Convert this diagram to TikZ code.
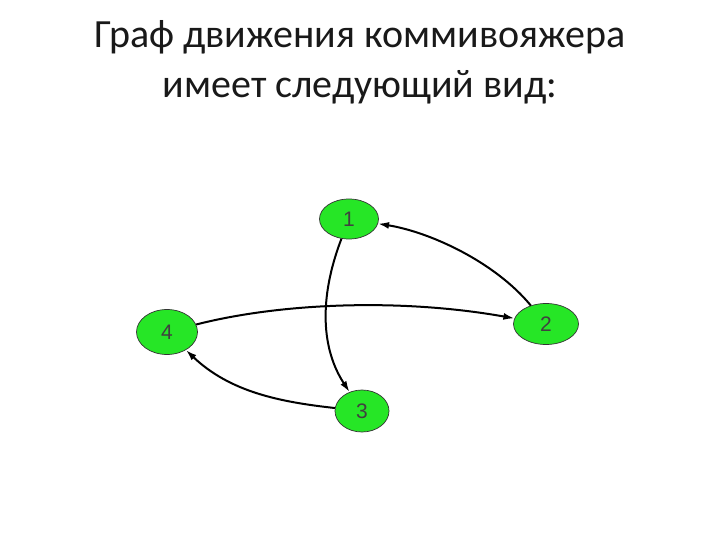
\documentclass[tikz,border=0pt]{standalone}
\usepackage{fontspec}
\setmainfont{Carlito}
\newfontfamily\labelfont{Liberation Sans}
\usetikzlibrary{arrows.meta,positioning}
\definecolor{nodegreen}{RGB}{38,230,38}
\tikzset{tsp/.style={draw=black!80,fill=nodegreen,ellipse,line width=0.7pt,inner sep=0,
        font=\labelfont\fontsize{21}{21}\selectfont,text=black!75},
    titleline/.style={anchor=base,font=\fontsize{40}{44}\selectfont,text=black!90},
    tour/.style={line width=2pt,-{Latex[length=11pt,width=7pt]}}}
\usetikzlibrary{shapes.geometric}

\begin{document}
\begin{tikzpicture}[x=1pt,y=-1pt]
\useasboundingbox (0,0) rectangle (720,540);

\node (title 1) [titleline] at (360,48) {Граф движения коммивояжера};
\node (title 2) [titleline] at (360,98) {имеет следующий вид:};

\node (n 1) [tsp,minimum width=59pt,minimum height=40pt] at (349,219) {1};
\node (n 2) [tsp,minimum width=65pt,minimum height=41pt] at (546,324) {2};
\node (n 3) [tsp,minimum width=54pt,minimum height=42pt] at (362,411) {3};
\node (n 4) [tsp,minimum width=61pt,minimum height=45pt] at (167,332) {4};

\draw [tour] (n 1) .. controls (318,300) and (322,350) .. (n 3);
\draw [tour] (n 2) .. controls (495,262) and (430,232) .. (n 1);
\draw [tour] (n 4) .. controls (280,303) and (400,298) .. (n 2);
\draw [tour] (n 3) .. controls (280,402) and (230,392) .. (n 4);

\end{tikzpicture}
\end{document}
